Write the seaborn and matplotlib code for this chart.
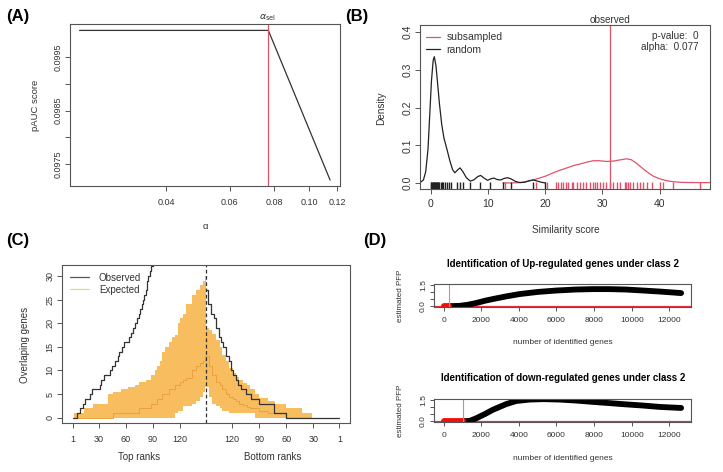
import numpy as np
import pandas as pd
import matplotlib
matplotlib.use("Agg")
import matplotlib.pyplot as plt
from matplotlib.lines import Line2D
from matplotlib.ticker import NullLocator
import seaborn as sns

# ---------------- data ----------------
# (A) pAUC score vs alpha
alpha_vals = [0.0229, 0.0770, 0.1145]
pauc_vals = [0.10000, 0.10000, 0.09720]
alpha_sel = 0.0770
a_xticks = [0.04, 0.06, 0.08, 0.10, 0.12]
a_xticklabels = ["0.04", "0.06", "0.08", "0.10", "0.12"]
a_yticks = [0.0975, 0.0980, 0.0985, 0.0990, 0.0995]
a_yticklabels = ["0.0975", "", "0.0985", "", "0.0995"]

# (B) similarity score densities
random_x = [-1.8, -1.3, -0.9, -0.5, -0.2, 0.1, 0.4, 0.6, 0.9, 1.2, 1.5, 1.9, 2.3, 2.8,
            3.3, 3.8, 4.2, 4.7, 5.1, 5.6, 6.2, 6.9, 7.5, 8.2, 8.7, 9.3, 9.9, 10.5, 11.0,
            11.6, 12.2, 12.8, 13.4, 14.0, 14.8, 15.6, 16.4, 17.2, 17.9, 18.6, 19.3, 20.0]
random_y = [0.002, 0.008, 0.03, 0.09, 0.18, 0.27, 0.325, 0.335, 0.31, 0.26, 0.21, 0.155,
            0.118, 0.09, 0.06, 0.035, 0.027, 0.035, 0.04, 0.03, 0.014, 0.005, 0.008, 0.017,
            0.02, 0.013, 0.007, 0.011, 0.013, 0.009, 0.008, 0.012, 0.014, 0.011, 0.004,
            0.001, 0.002, 0.006, 0.008, 0.005, 0.002, 0.0]
subsampled_x = [12.6, 14.0, 15.6, 16.8, 17.9, 19.0, 20.2, 21.4, 22.6, 23.8, 24.9, 26.0,
                27.2, 28.4, 29.5, 30.7, 31.9, 33.0, 34.2, 35.0, 35.8, 36.6, 37.4, 38.2,
                38.9, 40.0, 41.2, 42.5, 44.0, 46.0, 48.8]
subsampled_y = [0.0, 0.0, 0.001, 0.004, 0.008, 0.013, 0.019, 0.027, 0.034, 0.040, 0.046,
                0.050, 0.055, 0.059, 0.059, 0.057, 0.058, 0.061, 0.064, 0.062, 0.054, 0.044,
                0.034, 0.025, 0.018, 0.011, 0.006, 0.003, 0.0015, 0.001, 0.001]
random_rug = [0.0, 0.1, 0.2, 0.3, 0.4, 0.5, 0.6, 0.7, 0.8, 0.9, 1.0, 1.1, 1.2, 1.3, 1.5,
              1.7, 1.9, 2.2, 2.5, 2.8, 3.1, 3.5, 4.5, 5.1, 5.6, 6.9, 8.6, 10.3, 12.6, 14.0,
              17.8, 19.9]
subsampled_rug = [13.0, 18.3, 20.3, 21.9, 22.3, 22.7, 23.1, 23.6, 24.0, 24.6, 24.9, 25.5,
                  26.1, 26.6, 27.2, 27.8, 28.4, 28.7, 29.0, 29.6, 30.1, 30.7, 31.3, 31.9,
                  32.5, 33.1, 33.9, 34.2, 34.5, 34.8, 35.4, 36.0, 36.6, 37.1, 37.7, 38.6,
                  40.0, 40.6, 42.4, 47.0]
observed_score = 31.3
p_value_text = "p-value:  0"
alpha_text = "alpha:  0.077"

# (C) overlapping genes (top ranks 1..149 | bottom ranks 149..1)
n_ranks = 149
obs_top_rank = [1, 6, 9, 12, 15, 20, 22, 31, 33, 36, 42, 45, 48, 51, 53, 56, 58, 64, 66,
                68, 70, 72, 75, 76, 78, 79, 80, 82, 83, 84, 85, 87, 88, 90]
obs_top_val = [0, 1, 2, 3, 4, 5, 6, 7, 8, 9, 10, 11, 12, 13, 14, 15, 16, 17, 18, 19, 20,
               21, 22, 23, 24, 25, 26, 27, 28, 29, 30, 31, 32, 34]
obs_bot_rank = [149, 147, 143, 140, 138, 135, 132, 130, 127, 124, 121, 119, 116, 113, 110,
                105, 99, 90, 73, 60, 1]
obs_bot_val = [27, 24, 22, 21, 19, 17, 16, 15, 13, 12, 10, 9, 8, 7, 6, 5, 4, 3, 1, 0, 0]

exp_top_rank = [3, 14, 24, 40, 46, 55, 62, 70, 75, 82, 88, 92, 95, 98, 100, 104, 108, 111,
                115, 118, 120, 124, 127, 134, 138, 142, 146, 148]
exp_top_upper = [1, 2, 3, 5, 5.5, 6, 6.5, 7, 7.5, 8, 9, 10, 11, 12, 14, 15, 16, 17, 17.5,
                 20, 21, 22, 24, 26, 27, 28, 29, 30]
exp_top_lower = [0, 0, 0, 0, 0, 0, 0, 0, 0, 0, 0, 0, 0, 0, 0, 0, 0, 0, 1, 1.5, 1.5, 2.5,
                 2.5, 3, 3.5, 4.5, 5.5, 6.5]
exp_top_median = [0, 0, 0, 0, 1, 1, 1, 1, 2, 2, 3, 3, 4, 4, 5, 5, 6, 6, 7, 7, 7.5, 8, 8.5,
                  10, 11, 11.5, 12, 13]
exp_bot_rank = [149, 146, 142, 138, 134, 131, 127, 123, 119, 116, 112, 108, 104, 100, 95,
                90, 80, 72, 60, 42, 31]
exp_bot_upper = [19, 18.5, 17.8, 16.4, 15, 13.3, 12, 10.5, 9.5, 8.7, 8, 7.3, 7, 6, 5, 4.2,
                 3.5, 3, 2, 1, 0]
exp_bot_lower = [6.5, 4.5, 3, 2.5, 2, 1.5, 1.5, 1, 1, 1, 1, 1, 1, 1, 0, 0, 0, 0, 0, 0, 0]
exp_bot_median = [13, 11, 9, 7.5, 7, 6, 5, 4.5, 4, 3.5, 3, 2.7, 2.3, 2, 2, 1.5, 1, 1, 0, 0, 0]
c_rank_ticks = [1, 30, 60, 90, 120]

# (D) estimated PFP vs number of identified genes
up_genes = [0, 318, 850, 1300, 1735, 2200, 2620, 3300, 4036, 5000, 5985, 7000, 7930, 8800,
            9700, 10600, 11470, 12000, 12620]
up_pfp = [0, 0, 0.02, 0.1, 0.22, 0.38, 0.5, 0.68, 0.85, 1.0, 1.1, 1.17, 1.2, 1.2, 1.17,
          1.1, 1.03, 0.98, 0.92]
up_cut = 318
down_genes = [0, 1026, 1115, 1400, 1735, 2200, 2620, 3330, 3860, 4570, 5300, 6160, 7050,
              8000, 8820, 9700, 10590, 11500, 12620]
down_pfp = [0, 0, 0, 0.02, 0.2, 0.5, 0.8, 1.2, 1.42, 1.52, 1.55, 1.52, 1.45, 1.35, 1.27,
            1.18, 1.1, 1.0, 0.93]
down_cut = 1026
d_xticks = [0, 2000, 4000, 6000, 8000, 10000, 12000]

# ---------------- style ----------------
sns.set_theme(style="ticks")
plt.rcParams["font.family"] = ["Liberation Sans", "DejaVu Sans"]
plt.rcParams.update({
    "axes.edgecolor": "#555555",
    "axes.linewidth": 0.8,
    "xtick.color": "#555555",
    "ytick.color": "#555555",
    "xtick.labelcolor": "#333333",
    "ytick.labelcolor": "#333333",
    "xtick.major.size": 3.5,
    "ytick.major.size": 3.5,
    "xtick.major.width": 0.7,
    "ytick.major.width": 0.7,
    "text.color": "#333333",
})
RED = "#DF536B"
ORANGE = "#F7BD5F"

W, H = 723, 472
fig = plt.figure(figsize=(7.23, 4.72), dpi=100)


def box(l, t, r, b):
    return [l / W, 1 - b / H, (r - l) / W, (b - t) / H]


def ftxt(x, y, s, **kw):
    fig.text(x / W, 1 - y / H, s, **kw)


def style_y(ax, fs):
    ax.tick_params(axis="y", labelrotation=90, labelsize=fs, pad=2)
    for lab in ax.get_yticklabels():
        lab.set_va("center")


# ---------------- (A) ----------------
axA = fig.add_axes(box(70, 24, 340, 186))
sns.lineplot(x=alpha_vals, y=pauc_vals, ax=axA, color="#333333", lw=0.9, sort=False)
axA.axvline(alpha_sel, color=RED, lw=0.9)
axA.set_xscale("log")
axA.set_xlim(0.02154, 0.122)
axA.set_xticks(a_xticks)
axA.set_xticklabels(a_xticklabels)
axA.xaxis.set_minor_locator(NullLocator())
axA.set_ylim(0.09709, 0.10012)
axA.set_yticks(a_yticks)
axA.set_yticklabels(a_yticklabels)
axA.tick_params(axis="x", labelsize=6.5, pad=5)
style_y(axA, 6.5)
ftxt(35, 105, "pAUC score", rotation=90, ha="center", va="center", fontsize=6.8)
ftxt(205, 227, "α", ha="center", va="center", fontsize=6.8)
ftxt(268, 18, r"$\alpha_{\mathrm{sel}}$", ha="center", va="center", fontsize=6.8)
ftxt(6, 17, "(A)", ha="left", va="center", fontsize=12, fontweight="bold", color="black")

# ---------------- (B) ----------------
axB = fig.add_axes(box(420, 25, 710, 189))
sns.lineplot(x=subsampled_x, y=subsampled_y, ax=axB, color=RED, lw=0.9, sort=False,
             label="subsampled")
sns.lineplot(x=random_x, y=random_y, ax=axB, color="#222222", lw=0.9, sort=False,
             label="random")
sns.rugplot(x=random_rug, ax=axB, color="#222222", height=0.04, lw=0.5)
sns.rugplot(x=subsampled_rug, ax=axB, color=RED, height=0.04, lw=0.5)
axB.axvline(observed_score, color=RED, lw=0.9)
axB.set_xlim(-1.9, 48.8)
axB.set_ylim(-0.016, 0.419)
axB.set_xticks([0, 10, 20, 30, 40])
axB.set_yticks([0.0, 0.1, 0.2, 0.3, 0.4])
axB.set_yticklabels(["0.0", "0.1", "0.2", "0.3", "0.4"])
axB.set_xlabel("")
axB.set_ylabel("")
axB.tick_params(axis="x", labelsize=7.5, pad=4)
style_y(axB, 7.5)
axB.legend(loc="upper left", frameon=False, fontsize=7.5, handlelength=1.4,
           handletextpad=0.6, labelspacing=0.25, borderaxespad=0.3,
           bbox_to_anchor=(-0.005, 1.0))
ftxt(699, 36, p_value_text, ha="right", va="center", fontsize=7.2)
ftxt(699, 47.5, alpha_text, ha="right", va="center", fontsize=7.2)
ftxt(610, 20, "observed", ha="center", va="center", fontsize=7.2)
ftxt(566, 230, "Similarity score", ha="center", va="center", fontsize=7.2)
ftxt(381, 108, "Density", rotation=90, ha="center", va="center", fontsize=7.2)
ftxt(345, 17, "(B)", ha="left", va="center", fontsize=12, fontweight="bold", color="black")

# ---------------- (C) ----------------
axC = fig.add_axes(box(62, 265, 350, 423))
last = 2 * n_ranks
band = pd.DataFrame({
    "pos": exp_top_rank + [last - r for r in exp_bot_rank],
    "upper": exp_top_upper + exp_bot_upper,
    "lower": exp_top_lower + exp_bot_lower,
    "median": exp_top_median + exp_bot_median,
})
axC.fill_between(band["pos"].to_numpy(), band["lower"].to_numpy(),
                 band["upper"].to_numpy(), step="post", color=ORANGE, lw=0,
                 edgecolor="none")
sns.lineplot(data=band, x="pos", y="median", ax=axC, color="#E9A23E", lw=0.7,
             drawstyle="steps-post")
sns.lineplot(x=obs_top_rank, y=obs_top_val, ax=axC, color="#333333", lw=0.9,
             drawstyle="steps-post")
sns.lineplot(x=[last - r for r in obs_bot_rank], y=obs_bot_val, ax=axC, color="#333333",
             lw=0.9, drawstyle="steps-post")
axC.axvline(n_ranks, color="#333333", lw=0.9, ls=(0, (3, 2)))
axC.set_xlim(-10.8, 308.8)
axC.set_ylim(-1.1, 32.3)
xt = c_rank_ticks + [last - r for r in c_rank_ticks[::-1]]
axC.set_xticks(xt)
axC.set_xticklabels([str(r) for r in c_rank_ticks] + [str(r) for r in c_rank_ticks[::-1]])
axC.set_yticks([0, 5, 10, 15, 20, 25, 30])
axC.set_xlabel("")
axC.set_ylabel("")
axC.tick_params(axis="x", labelsize=6.5, pad=5)
style_y(axC, 6.5)
handles = [Line2D([], [], color="#555555", lw=0.9),
           Line2D([], [], color="#E0DC8C", lw=0.9)]
axC.legend(handles, ["Observed", "Expected"], loc="upper left", frameon=False,
           fontsize=7, handlelength=2.0, handletextpad=1.0, labelspacing=0.2,
           borderaxespad=0.4)
ftxt(139, 457, "Top ranks", ha="center", va="center", fontsize=7)
ftxt(273, 457, "Bottom ranks", ha="center", va="center", fontsize=7)
ftxt(25, 345, "Overlaping genes", rotation=90, ha="center", va="center", fontsize=7)
ftxt(6, 241, "(C)", ha="left", va="center", fontsize=12, fontweight="bold", color="black")


# ---------------- (D) ----------------
def pfp_panel(rect, genes, pfp, cut, title, title_y, xlabel_y):
    ax = fig.add_axes(box(*rect))
    df = pd.DataFrame({"genes": genes, "pfp": pfp})
    sig = df[df["genes"] <= cut]
    rest = df[df["genes"] >= cut]
    ax.axhline(0, color="#E8303F", lw=0.9)
    sns.lineplot(data=rest, x="genes", y="pfp", ax=ax, color="black", lw=4.2,
                 solid_capstyle="round")
    sns.lineplot(data=sig, x="genes", y="pfp", ax=ax, color="#F01010", lw=4.2,
                 solid_capstyle="round")
    ax.axvline(cut, color="#E8808C", lw=0.8)
    ax.set_xlim(-505, 13145)
    ax.set_ylim(-0.06, 1.56)
    ax.set_xticks(d_xticks)
    ax.set_yticks([0, 0.5, 1.0, 1.5])
    ax.set_yticklabels(["0.0", "", "", "1.5"])
    ax.set_xlabel("")
    ax.set_ylabel("")
    ax.tick_params(axis="x", labelsize=6, pad=4, length=3)
    ax.tick_params(axis="y", length=3)
    style_y(ax, 6)
    ftxt(563, title_y, title, ha="center", va="center", fontsize=7, fontweight="bold",
         color="black")
    ftxt(563, xlabel_y, "number of identified genes", ha="center", va="center",
         fontsize=6)
    ftxt(401, (rect[1] + rect[3]) / 2, "estimated PFP", rotation=90, ha="center",
         va="center", fontsize=5.8)
    return ax


pfp_panel((434, 284, 691, 307), up_genes, up_pfp, up_cut,
          "Identification of Up-regulated genes under class 2", 264, 343)
pfp_panel((434, 399, 691, 422), down_genes, down_pfp, down_cut,
          "Identification of down-regulated genes under class 2", 378, 458)
ftxt(363, 241, "(D)", ha="left", va="center", fontsize=12, fontweight="bold", color="black")

fig.savefig("out.png", dpi=100)
